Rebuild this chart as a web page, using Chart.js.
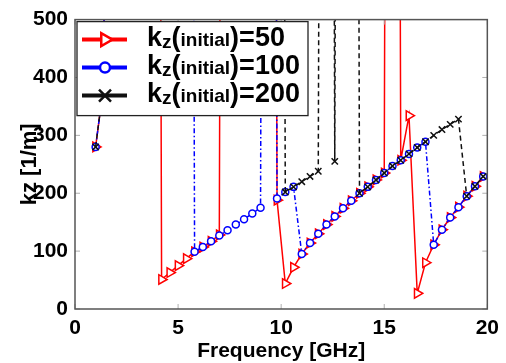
<!DOCTYPE html>
<html>
<head>
<meta charset="utf-8">
<script src="https://cdn.jsdelivr.net/npm/chart.js@4.4.1/dist/chart.umd.min.js"></script>
<style>
  html, body { margin: 0; padding: 0; background: #fff; }
  #chart { display: block; }
</style>
</head>
<body>
<canvas id="chart" width="506" height="363"></canvas>
<script>
const FONT = "'Liberation Sans', Arial, Helvetica, sans-serif";
const OFF = 5000; // kz far above the axis limit (solver jumped off scale)

const freq = [1.0, 1.4, 1.8, 2.2, 2.6, 3.0, 3.4, 3.8, 4.2, 4.6, 5.0, 5.4,
              5.8, 6.2, 6.6, 7.0, 7.4, 7.8, 8.2, 8.6, 9.0, 9.4, 9.8, 10.2,
              10.6, 11.0, 11.4, 11.8, 12.2, 12.6, 13.0, 13.4, 13.8, 14.2, 14.6, 15.0,
              15.4, 15.8, 16.2, 16.6, 17.0, 17.4, 17.8, 18.2, 18.6, 19.0, 19.4, 19.8];

const kz50 = [280, 390, OFF, OFF, OFF, OFF, OFF, OFF, 51, 63, 75, 87,
              99, 107, 117, 128, OFF, OFF, OFF, OFF, OFF, OFF, 188, 44,
              72, 95, 114, 130, 146, 160, 174, 187, 200, 211, 223, 235,
              OFF, 257, 334, 27, 80, 111, 137, 158, 176, 195, 212, 229];

const kz100 = [280, 390, OFF, OFF, OFF, OFF, OFF, OFF, OFF, OFF, OFF, OFF,
               99, 107, 117, 127, 136, 146, 155, 165, 175, OFF, 191, 202,
               211, 95, 114, 130, 146, 160, 174, 187, 200, 211, 223, 235,
               247, 257, 268, 279, 289, 111, 137, 158, 176, 195, 212, 229];

const kz200 = [280, 390, OFF, OFF, OFF, OFF, OFF, OFF, OFF, OFF, OFF, OFF,
               OFF, OFF, OFF, OFF, OFF, OFF, OFF, OFF, OFF, OFF, OFF, 202,
               211, 220, 229, 238, OFF, 255, OFF, OFF, 200, 211, 223, 235,
               247, 257, 268, 279, 289, 300, 310, 319, 328, 195, 212, 229];

const xTicks = [0, 5, 10, 15, 20];
const yTicks = [0, 100, 200, 300, 400, 500];
const legendValues = ['50', '100', '200'];

function toPoints(values) {
    return values.map((v, i) => ({ x: freq[i], y: v }));
}

const series = [
    { color: '#ff0000', dash: [], style: 'triangle', radius: 5.5 },
    { color: '#0000ff', dash: [5, 2.5, 1.5, 2.5], style: 'circle', radius: 3.5 },
    { color: '#111111', dash: [5, 3.5], style: 'crossRot', radius: 4.5 }
];

function drawMarker(ctx, style, x, y, r) {
    ctx.beginPath();
    if (style === 'triangle') {
        // pointing right
        ctx.moveTo(x + r, y);
        ctx.lineTo(x - r / 2, y - r * 0.866);
        ctx.lineTo(x - r / 2, y + r * 0.866);
        ctx.closePath();
        ctx.fill();
        ctx.stroke();
    } else if (style === 'circle') {
        ctx.arc(x, y, r, 0, Math.PI * 2);
        ctx.fill();
        ctx.stroke();
    } else {
        ctx.moveTo(x - r, y - r);
        ctx.lineTo(x + r, y + r);
        ctx.moveTo(x - r, y + r);
        ctx.lineTo(x + r, y - r);
        ctx.stroke();
    }
}

const framePlugin = {
    id: 'frame',
    afterDatasetsDraw(chart) {
        const { ctx, chartArea: a, scales: { x, y } } = chart;
        ctx.save();
        ctx.strokeStyle = '#b0b0b0';
        ctx.lineWidth = 1;
        ctx.beginPath();
        xTicks.forEach(v => {
            const px = x.getPixelForValue(v);
            ctx.moveTo(px, a.bottom); ctx.lineTo(px, a.bottom - 5);
            ctx.moveTo(px, a.top); ctx.lineTo(px, a.top + 5);
        });
        yTicks.forEach(v => {
            const py = y.getPixelForValue(v);
            ctx.moveTo(a.left, py); ctx.lineTo(a.left + 5, py);
            ctx.moveTo(a.right, py); ctx.lineTo(a.right - 5, py);
        });
        ctx.stroke();
        ctx.strokeStyle = '#555';
        ctx.lineWidth = 1.5;
        ctx.strokeRect(a.left, a.top, a.width, a.height);
        ctx.restore();
    }
};

const legendPlugin = {
    id: 'boxLegend',
    afterDraw(chart) {
        const { ctx, chartArea: a } = chart;
        const bx = a.left + 2, by = a.top + 2, bw = 231, bh = 94;
        ctx.save();
        ctx.fillStyle = '#fff';
        ctx.fillRect(bx, by, bw, bh);
        ctx.strokeStyle = '#222';
        ctx.lineWidth = 1.3;
        ctx.strokeRect(bx, by, bw, bh);

        legendValues.forEach((val, i) => {
            const s = series[i];
            const rowY = by + 18 + i * 28;
            ctx.setLineDash([]);
            ctx.strokeStyle = s.color;
            ctx.lineWidth = 4;
            ctx.beginPath();
            ctx.moveTo(bx + 5, rowY);
            ctx.lineTo(bx + 50, rowY);
            ctx.stroke();
            ctx.fillStyle = '#fff';
            ctx.lineWidth = 2.5;
            const mr = s.style === 'triangle' ? 7.5 : (s.style === 'circle' ? 5 : 6);
            drawMarker(ctx, s.style, bx + 28, rowY, mr);

            // k_z(initial)=value
            ctx.fillStyle = '#000';
            ctx.textBaseline = 'alphabetic';
            let tx = bx + 70;
            const base = rowY + 6;
            const parts = [['k', 27, 0], ['z', 19, 2], ['(', 27, 0], ['initial', 19, 0], [')=' + val, 27, 0]];
            parts.forEach(([t, size, dy]) => {
                ctx.font = `bold ${size}px ${FONT}`;
                ctx.fillText(t, tx, base + dy);
                tx += ctx.measureText(t).width;
            });
        });
        ctx.restore();
    }
};

const datasets = [kz50, kz100, kz200].map((vals, i) => ({
    data: toPoints(vals),
    borderColor: series[i].color,
    borderWidth: 1.5,
    borderDash: series[i].dash,
    pointStyle: series[i].style,
    pointRotation: series[i].style === 'triangle' ? 90 : 0,
    pointRadius: series[i].radius,
    pointBorderColor: series[i].color,
    pointBackgroundColor: '#fff',
    pointBorderWidth: 1.5,
    tension: 0,
    clip: 0,
    order: 3 - i
}));

new Chart(document.getElementById('chart'), {
    type: 'line',
    data: { datasets },
    options: {
        responsive: false,
        devicePixelRatio: 1,
        animation: false,
        events: [],
        layout: { padding: { left: 0, right: 16, top: 19, bottom: 0 } },
        plugins: { legend: { display: false }, tooltip: { enabled: false } },
        scales: {
            x: {
                type: 'linear',
                min: 0,
                max: 20,
                afterFit: s => { s.height = 54; },
                afterBuildTicks: s => { s.ticks = xTicks.map(v => ({ value: v })); },
                grid: { display: false, drawTicks: false },
                border: { display: false },
                ticks: {
                    color: '#000', padding: 7, autoSkip: false, maxRotation: 0,
                    font: { family: FONT, size: 21, weight: 'bold' }
                },
                title: {
                    display: true, text: 'Frequency [GHz]', color: '#000',
                    font: { family: FONT, size: 21, weight: 'bold', lineHeight: 1 },
                    padding: { top: 0, bottom: 1 }
                }
            },
            y: {
                type: 'linear',
                min: 0,
                max: 500,
                afterFit: s => { s.width = 75; },
                afterBuildTicks: s => { s.ticks = yTicks.map(v => ({ value: v })); },
                grid: { display: false, drawTicks: false },
                border: { display: false },
                ticks: {
                    color: '#000', padding: 7, autoSkip: false,
                    font: { family: FONT, size: 21, weight: 'bold' }
                },
                title: {
                    display: true, text: 'kz [1/m]', color: '#000',
                    font: { family: FONT, size: 22, weight: 'bold', lineHeight: 1 },
                    padding: { top: 19, bottom: 0 }
                }
            }
        }
    },
    plugins: [framePlugin, legendPlugin]
});
</script>
</body>
</html>
